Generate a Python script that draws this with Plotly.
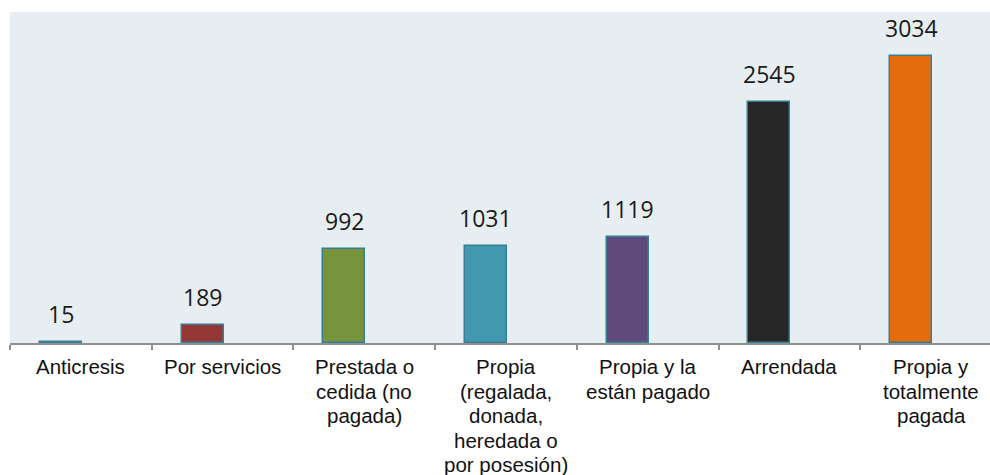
import plotly.graph_objects as go

# Housing tenure categories (one entry per text line) and household counts
categories = [
    ["Anticresis"],
    ["Por servicios"],
    ["Prestada o", "cedida (no", "pagada)"],
    ["Propia", "(regalada,", "donada,", "heredada o", "por posesión)"],
    ["Propia y la", "están pagado"],
    ["Arrendada"],
    ["Propia y", "totalmente", "pagada"],
]
values = [15, 189, 992, 1031, 1119, 2545, 3034]
bar_colors = ["#4F81BD", "#953735", "#77933C", "#4198AF", "#604A7B", "#262626", "#E46C0A"]

positions = list(range(len(categories)))
bar_width = 0.296
bar_shift = -0.141  # bars sit slightly left of each category centre
line_step = 24.5    # px between category label lines

fig = go.Figure()
fig.add_trace(go.Bar(
    x=positions,
    y=values,
    width=bar_width,
    offset=bar_shift - bar_width / 2,
    marker=dict(color=bar_colors, line=dict(color="#377E94", width=1.5)),
    hoverinfo="skip",
))

# value labels above the bars
for p, v in zip(positions, values):
    fig.add_annotation(
        x=p + bar_shift, y=v, text=str(v),
        showarrow=False, yanchor="bottom", yshift=10,
        font=dict(family="Open Sans", size=23, color="#1a1a1a"),
    )

# category labels below the axis, centred on each category
for p, lines in zip(positions, categories):
    for k, line in enumerate(lines):
        fig.add_annotation(
            x=p, xref="x", y=0, yref="paper", text=line,
            showarrow=False, yanchor="middle", xanchor="center",
            yshift=-(23.5 + line_step * k),
            font=dict(family="Arial", size=20.5, color="#111111"),
        )

fig.update_layout(
    width=990, height=475,
    margin=dict(l=10, r=0, t=12, b=132, autoexpand=False),
    paper_bgcolor="white",
    plot_bgcolor="#E7EEF2",
    showlegend=False,
    bargap=0,
    xaxis=dict(
        range=[-0.5, 6.416],
        automargin=False,
        tickvals=[p - 0.5 for p in positions] + [6.5],
        showticklabels=False,
        ticks="outside", ticklen=5, tickcolor="#8F8F8F", tickwidth=1.5,
        showline=True, linecolor="#8F8F8F", linewidth=1.5,
        showgrid=False, zeroline=False,
    ),
    yaxis=dict(
        range=[0, 3500],
        visible=False,
        showgrid=False, zeroline=False,
    ),
)

fig.write_html("out.html")
